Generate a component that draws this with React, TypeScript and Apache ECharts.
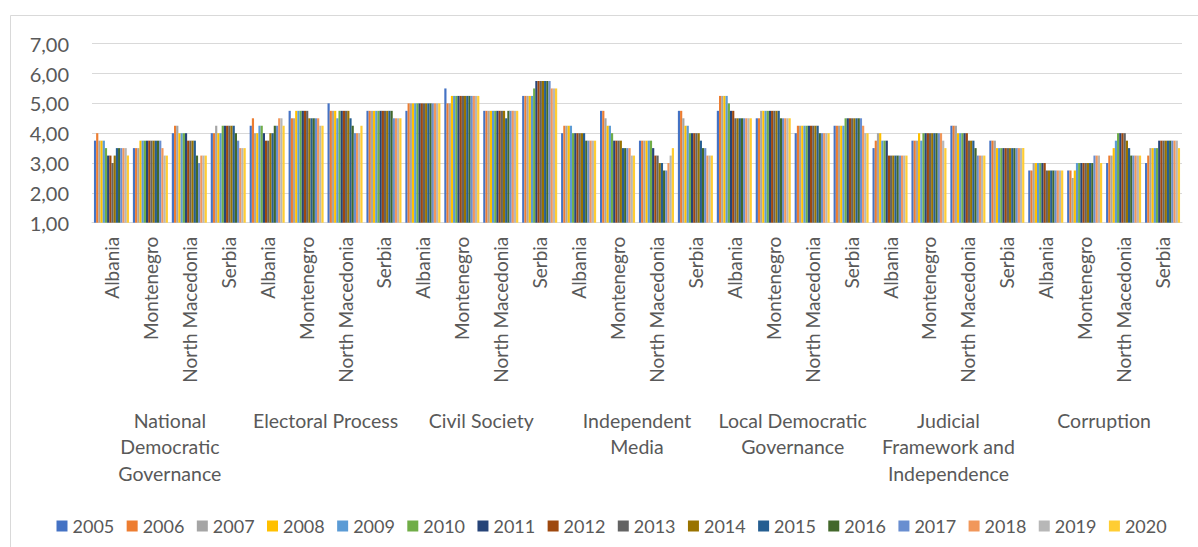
import React, { useEffect, useRef } from "react";
import * as echarts from "echarts";

const years = ["2005", "2006", "2007", "2008", "2009", "2010", "2011", "2012", "2013", "2014", "2015", "2016", "2017", "2018", "2019", "2020"];
const countries = ["Albania", "Montenegro", "North Macedonia", "Serbia"];
const dimensions = [
  "National\nDemocratic\nGovernance",
  "Electoral Process",
  "Civil Society",
  "Independent\nMedia",
  "Local Democratic\nGovernance",
  "Judicial\nFramework and\nIndependence",
  "Corruption",
];
const yTicks = [1, 2, 3, 4, 5, 6, 7];

// rows: Albania, Montenegro, North Macedonia, Serbia; columns: 2005..2020
const nationalDemocraticGovernance = [
  [3.75, 4.0, 3.75, 3.75, 3.75, 3.5, 3.25, 3.25, 3.0, 3.25, 3.5, 3.5, 3.5, 3.5, 3.5, 3.25],
  [3.5, 3.5, 3.5, 3.75, 3.75, 3.75, 3.75, 3.75, 3.75, 3.75, 3.75, 3.75, 3.75, 3.5, 3.25, 3.25],
  [4.0, 4.25, 4.25, 4.0, 4.0, 4.0, 4.0, 3.75, 3.75, 3.75, 3.75, 3.25, 3.0, 3.25, 3.25, 3.25],
  [4.0, 4.0, 4.25, 4.0, 4.0, 4.25, 4.25, 4.25, 4.25, 4.25, 4.25, 4.0, 3.75, 3.5, 3.5, 3.5],
];
const electoralProcess = [
  [4.25, 4.5, 4.0, 4.0, 4.25, 4.25, 4.0, 3.75, 3.75, 4.0, 4.0, 4.25, 4.25, 4.5, 4.5, 4.25],
  [4.75, 4.5, 4.5, 4.75, 4.75, 4.75, 4.75, 4.75, 4.75, 4.5, 4.5, 4.5, 4.5, 4.5, 4.25, 4.25],
  [5.0, 4.75, 4.75, 4.75, 4.5, 4.75, 4.75, 4.75, 4.75, 4.75, 4.5, 4.25, 4.0, 4.0, 4.0, 4.25],
  [4.75, 4.75, 4.75, 4.75, 4.75, 4.75, 4.75, 4.75, 4.75, 4.75, 4.75, 4.75, 4.5, 4.5, 4.5, 4.5],
];
const civilSociety = [
  [4.75, 5.0, 5.0, 5.0, 5.0, 5.0, 5.0, 5.0, 5.0, 5.0, 5.0, 5.0, 5.0, 5.0, 5.0, 5.0],
  [5.5, 5.0, 5.0, 5.25, 5.25, 5.25, 5.25, 5.25, 5.25, 5.25, 5.25, 5.25, 5.25, 5.25, 5.25, 5.25],
  [4.75, 4.75, 4.75, 4.75, 4.75, 4.75, 4.75, 4.75, 4.75, 4.75, 4.5, 4.75, 4.75, 4.75, 4.75, 4.75],
  [5.25, 5.25, 5.25, 5.25, 5.25, 5.5, 5.75, 5.75, 5.75, 5.75, 5.75, 5.75, 5.75, 5.5, 5.5, 5.5],
];
const independentMedia = [
  [4.0, 4.25, 4.25, 4.25, 4.25, 4.0, 4.0, 4.0, 4.0, 4.0, 4.0, 3.75, 3.75, 3.75, 3.75, 3.75],
  [4.75, 4.75, 4.5, 4.25, 4.25, 4.0, 3.75, 3.75, 3.75, 3.75, 3.5, 3.5, 3.5, 3.5, 3.25, 3.25],
  [3.75, 3.75, 3.75, 3.75, 3.75, 3.75, 3.5, 3.25, 3.25, 3.0, 3.0, 2.75, 2.75, 3.0, 3.25, 3.5],
  [4.75, 4.75, 4.5, 4.25, 4.25, 4.0, 4.0, 4.0, 4.0, 4.0, 3.75, 3.5, 3.5, 3.25, 3.25, 3.25],
];
const localDemocraticGovernance = [
  [4.75, 5.25, 5.25, 5.25, 5.25, 5.0, 4.75, 4.75, 4.5, 4.5, 4.5, 4.5, 4.5, 4.5, 4.5, 4.5],
  [4.5, 4.5, 4.75, 4.75, 4.75, 4.75, 4.75, 4.75, 4.75, 4.75, 4.75, 4.5, 4.5, 4.5, 4.5, 4.5],
  [4.0, 4.25, 4.25, 4.25, 4.25, 4.25, 4.25, 4.25, 4.25, 4.25, 4.25, 4.0, 4.0, 4.0, 4.0, 4.0],
  [4.25, 4.25, 4.25, 4.25, 4.25, 4.5, 4.5, 4.5, 4.5, 4.5, 4.5, 4.5, 4.5, 4.25, 4.0, 4.0],
];
const judicialFramework = [
  [3.5, 3.75, 4.0, 4.0, 3.75, 3.75, 3.75, 3.25, 3.25, 3.25, 3.25, 3.25, 3.25, 3.25, 3.25, 3.25],
  [3.75, 3.75, 3.75, 4.0, 3.75, 4.0, 4.0, 4.0, 4.0, 4.0, 4.0, 4.0, 4.0, 4.0, 3.75, 3.5],
  [4.25, 4.25, 4.25, 4.0, 4.0, 4.0, 4.0, 4.0, 3.75, 3.75, 3.75, 3.5, 3.25, 3.25, 3.25, 3.25],
  [3.75, 3.75, 3.75, 3.5, 3.5, 3.5, 3.5, 3.5, 3.5, 3.5, 3.5, 3.5, 3.5, 3.5, 3.5, 3.5],
];
const corruption = [
  [2.75, 2.75, 3.0, 3.0, 3.0, 3.0, 3.0, 3.0, 2.75, 2.75, 2.75, 2.75, 2.75, 2.75, 2.75, 2.75],
  [2.75, 2.75, 2.5, 2.75, 3.0, 3.0, 3.0, 3.0, 3.0, 3.0, 3.0, 3.0, 3.25, 3.25, 3.25, 3.0],
  [3.0, 3.25, 3.25, 3.5, 3.75, 4.0, 4.0, 4.0, 4.0, 3.75, 3.5, 3.25, 3.25, 3.25, 3.25, 3.25],
  [3.0, 3.25, 3.5, 3.5, 3.5, 3.5, 3.75, 3.75, 3.75, 3.75, 3.75, 3.75, 3.75, 3.75, 3.75, 3.5],
];

const colors = [
  "#4472C4", "#ED7D31", "#A5A5A5", "#FFC000", "#5B9BD5", "#70AD47", "#264478", "#9E480E",
  "#636363", "#997300", "#255E91", "#43682B", "#698ED0", "#F1975A", "#B7B7B7", "#FFCD33",
];

const TEXT = "#595959";
const FONT = "Lato, 'Open Sans', sans-serif";

export default function App() {
  const ref = useRef<HTMLDivElement>(null);
  useEffect(() => {
    if (!ref.current) return;
    const chart = echarts.init(ref.current, null, { renderer: "svg" });
    const dims = [
      nationalDemocraticGovernance,
      electoralProcess,
      civilSociety,
      independentMedia,
      localDemocraticGovernance,
      judicialFramework,
      corruption,
    ];
    const categories: string[] = [];
    dims.forEach((_, di) => countries.forEach((c) => categories.push(c + "#" + di)));
    const series = years.map((y, yi) => ({
      name: y,
      type: "bar",
      xAxisIndex: 0,
      yAxisIndex: 0,
      barGap: "0%",
      barCategoryGap: "10%",
      itemStyle: { color: colors[yi] },
      data: dims.flatMap((d) => d.map((row) => row[yi])),
    }));
    chart.setOption({
      animation: false,
      color: colors,
      textStyle: { fontFamily: FONT },
      grid: { left: 92, right: 16, top: 43.7, bottom: 324.3, containLabel: false },
      xAxis: [
        {
          type: "category",
          data: categories,
          axisLine: { show: true, lineStyle: { color: "#D9D9D9", width: 1 } },
          axisTick: { show: false },
          axisLabel: {
            interval: 0,
            rotate: 90,
            margin: 14,
            fontSize: 19,
            color: TEXT,
            fontFamily: FONT,
            formatter: (v: string) => v.split("#")[0],
          },
        },
        {
          type: "category",
          data: dimensions,
          position: "bottom",
          offset: 176,
          axisLine: { show: false },
          axisTick: { show: false },
          splitLine: { show: false },
          axisLabel: {
            interval: 0,
            margin: 8,
            fontSize: 19.5,
            lineHeight: 26.7,
            color: TEXT,
            fontFamily: FONT,
            align: "center",
          },
        },
      ],
      yAxis: {
        type: "value",
        min: yTicks[0],
        max: yTicks[yTicks.length - 1],
        interval: 1,
        axisLine: { show: false },
        axisTick: { show: false },
        splitLine: { lineStyle: { color: "#D9D9D9", width: 1 } },
        axisLabel: {
          margin: 23,
          fontSize: 20,
          color: TEXT,
          fontFamily: FONT,
          formatter: (v: number) => v.toFixed(2).replace(".", ","),
        },
      },
      legend: {
        data: years,
        left: 56.5,
        top: 517,
        padding: 0,
        itemWidth: 11,
        itemHeight: 11,
        itemGap: 12.4,
        icon: "rect",
        textStyle: { fontSize: 18, color: TEXT, fontFamily: FONT },
      },
      graphic: [
        {
          type: "rect",
          shape: { x: 10.5, y: 15.5, width: 1200, height: 545 },
          style: { fill: "none", stroke: "#D9D9D9", lineWidth: 1 },
          silent: true,
          z: -10,
        },
      ],
      series,
    });
    return () => chart.dispose();
  }, []);
  return (
    <div
      ref={ref}
      style={{ position: "fixed", left: 0, top: 0, width: 1198, height: 547, background: "#fff" }}
    />
  );
}
